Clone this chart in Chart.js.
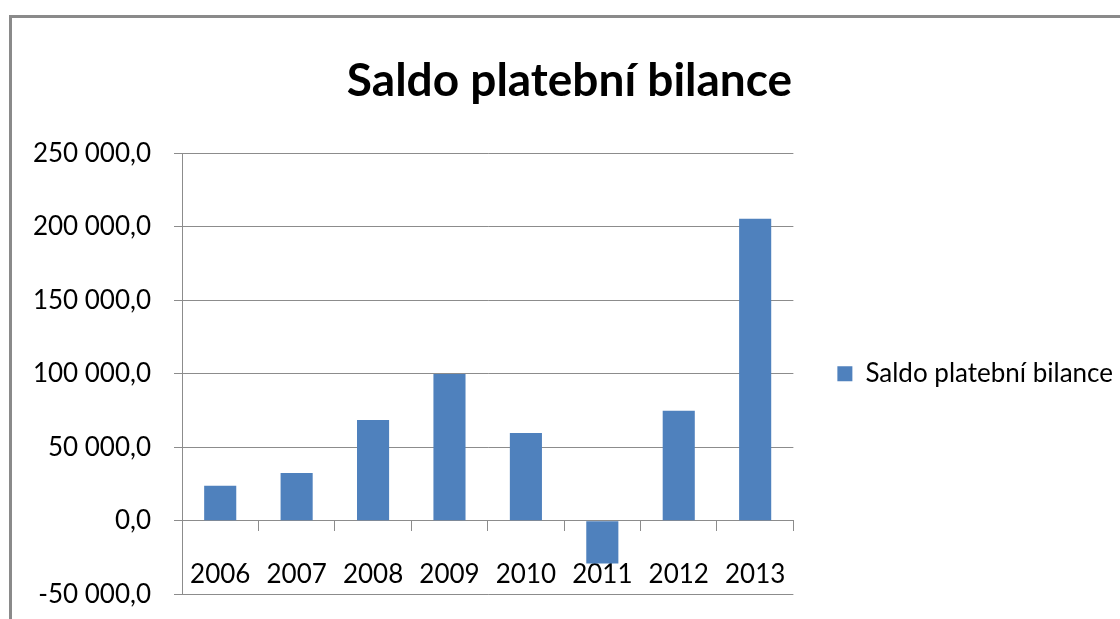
<!DOCTYPE html>
<html>
<head>
<meta charset="utf-8">
<script src="https://cdn.jsdelivr.net/npm/chart.js@4/dist/chart.umd.min.js"></script>
<style>
  body { margin: 0; background: #fff; overflow: hidden; }
  #frame { position: absolute; left: 9px; top: 15px; width: 1200px; height: 700px;
           border-top: 3px solid #8a8a8a; border-left: 3px solid #8a8a8a; }
  #wrap { position: absolute; left: 0; top: 0; width: 1140px; height: 633px; }
</style>
</head>
<body>
<div id="frame"></div>
<div id="wrap"><canvas id="chart" width="1140" height="633"></canvas></div>
<script>
var years = ["2006", "2007", "2008", "2009", "2010", "2011", "2012", "2013"];
var saldo = [23800, 32500, 68600, 99800, 59700, -29000, 74900, 205500];
var yTicks = [-50000, 0, 50000, 100000, 150000, 200000, 250000];
var yTickLabels = ["-50 000,0", "0,0", "50 000,0", "100 000,0", "150 000,0", "200 000,0", "250 000,0"];

var fontName = "Lato, 'DejaVu Sans Condensed', sans-serif";
Chart.defaults.font.family = fontName;
Chart.defaults.color = "#000";

var gridGray = "#8c8c8c";

const graph = document.getElementById("chart");
var g = new Chart(graph, {
  type: 'bar',
  data: {
    labels: years,
    datasets: [
      {
        label: "Saldo platební bilance",
        backgroundColor: "#4f81bd",
        borderWidth: 0,
        categoryPercentage: 1.0,
        barPercentage: 0.42,
        data: saldo
      }
    ]
  },
  options: {
    responsive: false,
    animation: false,
    layout: { padding: { left: 16, top: 0, bottom: 0, right: 17 } },
    plugins: {
      title: {
        display: true,
        text: "Saldo platební bilance",
        color: "#000",
        font: { size: 46, weight: 'bold', family: fontName },
        padding: { top: 54, bottom: 44 }
      },
      legend: {
        position: 'right',
        align: 'center',
        fullSize: false,
        maxWidth: 500,
        labels: {
          boxWidth: 15,
          boxHeight: 15,
          padding: 44,
          color: "#000",
          font: { size: 26, family: fontName }
        }
      },
      tooltip: { enabled: false }
    },
    scales: {
      x: {
        position: { y: 0 },
        offset: true,
        grid: {
          offset: true,
          drawOnChartArea: false,
          drawTicks: true,
          tickLength: 10,
          color: gridGray
        },
        border: { display: true, color: gridGray },
        ticks: { padding: 28, font: { size: 26 }, maxRotation: 0 }
      },
      y: {
        min: -50000,
        max: 250000,
        afterFit: function(scale) { scale.width = 166; },
        afterBuildTicks: function(scale) {
          scale.ticks = yTicks.map(function(v) { return { value: v }; });
        },
        grid: { color: gridGray, tickLength: 8, drawTicks: true },
        border: { display: true, color: gridGray },
        ticks: {
          padding: 23,
          font: { size: 26 },
          callback: function(value) {
            var i = yTicks.indexOf(value);
            return i >= 0 ? yTickLabels[i] : "";
          }
        }
      }
    }
  }
});
</script>
</body>
</html>
